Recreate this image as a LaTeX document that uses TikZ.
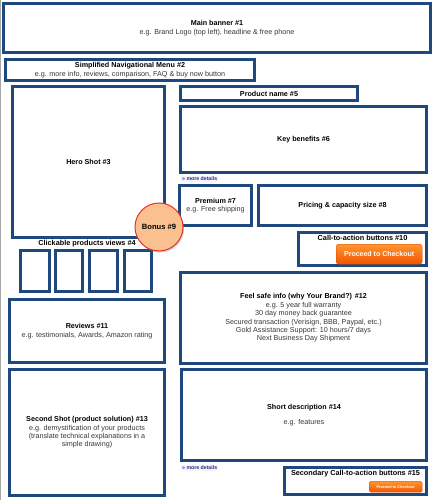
\documentclass[tikz,border=0pt]{standalone}
\usepackage{fontspec}
\setmainfont{Liberation Sans}
\usetikzlibrary{shadows}
\definecolor{bx}{RGB}{31,73,125}
\definecolor{peach}{RGB}{250,192,143}
\definecolor{bred}{RGB}{232,52,40}
\definecolor{lnk}{RGB}{40,40,150}
\definecolor{txtg}{RGB}{55,55,55}
\definecolor{btop}{RGB}{255,150,50}
\definecolor{bbot}{RGB}{240,85,0}
\tikzset{
  box/.style={draw=bx, line width=2.6pt, fill=white, anchor=north west, inner sep=0pt, outer sep=0pt,
    xshift=1.3pt, yshift=-1.3pt, align=center, font=\fontsize{7.2}{8.4}\selectfont, text=black},
  sz/.style 2 args={minimum width=#1pt-2.6pt, minimum height=#2pt-2.6pt},
  lbl/.style={inner sep=0pt, font=\bfseries\fontsize{7.3}{8.5}\selectfont},
  morelink/.style={inner sep=1pt, anchor=west, fill=black!4, text=lnk, font=\bfseries\fontsize{5.2}{6}\selectfont},
  btn/.style={anchor=north west, inner sep=0pt, rounded corners=2.5pt, top color=btop, bottom color=bbot,
    draw=bbot!90!black, line width=0.3pt, text=white, font=\bfseries\fontsize{7}{8}\selectfont},
  bonus/.style={circle, draw=bred, line width=1pt, fill=peach, minimum size=48pt, inner sep=0pt,
    font=\bfseries\fontsize{7.6}{9}\selectfont, drop shadow={opacity=0.35, shadow xshift=1.2pt, shadow yshift=-1.5pt}}
}
\newcommand{\dsc}[1]{{\color{txtg}#1}}
\begin{document}
\begin{tikzpicture}[x=1pt,y=-1pt]
\useasboundingbox (0,0) rectangle (433,500);
\fill[white] (0,0) rectangle (433,500);
\draw[black!35, line width=1pt] (0.5,0) -- (0.5,500);

\node[box, sz={430}{52}] (banner) at (2,2)
  {\textbf{Main banner \#1}\\\dsc{e.g. Brand Logo (top left), headline \& free phone}};
\node[box, sz={252}{24}] (nav) at (4,58)
  {\textbf{Simplified Navigational Menu \#2}\\\dsc{e.g. more info, reviews, comparison, FAQ \& buy now button}};
\node[box, sz={155}{154}] (hero) at (11,85) {\textbf{Hero Shot \#3}};
\node[box, sz={180}{17}] (pname) at (179,85) {\textbf{Product name \#5}};
\node[box, sz={249}{69}] (keyb) at (179,105) {\textbf{Key benefits \#6}};
\node[morelink] (more1) at (181,179) {» more details};
\node[box, sz={75}{43}] (prem) at (178,184)
  {\textbf{Premium \#7}\\\dsc{e.g. Free shipping}};
\node[box, sz={171}{43}] (price) at (257,184) {\textbf{Pricing \& capacity size \#8}};
\node[box, sz={131}{36}] (cta) at (297,231) {};
\node[lbl, anchor=north] (ctat) at (362.5,235.5) {Call-to-action buttons \#10};
\node[btn, minimum width=86pt, minimum height=20pt] (btn1) at (336,244) {Proceed to Checkout};

\node[lbl] (clickt) at (87,244) {Clickable products views \#4};
\node[box, sz={32}{44}] (v1) at (19,249) {};
\node[box, sz={30}{44}] (v2) at (54,249) {};
\node[box, sz={31}{44}] (v3) at (88,249) {};
\node[box, sz={30}{44}] (v4) at (123,249) {};

\node[box, sz={158}{66}] (rev) at (8,298)
  {\textbf{Reviews \#11}\\\dsc{e.g. testimonials, Awards, Amazon rating}};
\node[box, sz={249}{94}] (safe) at (179,271)
  {\textbf{Feel safe info (why Your Brand?) \#12}\\\dsc{e.g. 5 year full warranty}\\\dsc{30 day money back guarantee}\\
   \dsc{Secured transaction (Verisign, BBB, Paypal, etc.)}\\\dsc{Gold Assistance Support: 10 hours/7 days}\\\dsc{Next Business Day Shipment}};
\node[box, sz={158}{129}] (second) at (8,368)
  {\textbf{Second Shot (product solution) \#13}\\\dsc{e.g. demystification of your products}\\
   \dsc{(translate technical explanations in a}\\\dsc{simple drawing)}};
\node[box, sz={248}{94}] (short) at (180,368)
  {\textbf{Short description \#14}\\[7pt]\dsc{e.g. features}};
\node[morelink] (more2) at (181,468) {» more details};
\node[box, sz={145}{30}] (cta2) at (283,466) {};
\node[lbl, anchor=north] (cta2t) at (355.5,470.5) {Secondary Call-to-action buttons \#15};
\node[btn, minimum width=53pt, minimum height=11pt, rounded corners=1.5pt, font=\bfseries\fontsize{3.8}{4}\selectfont] (btn2) at (369,481) {Proceed to Checkout};

\node[bonus] (bonus) at (159,227) {Bonus \#9};
\end{tikzpicture}
\end{document}
